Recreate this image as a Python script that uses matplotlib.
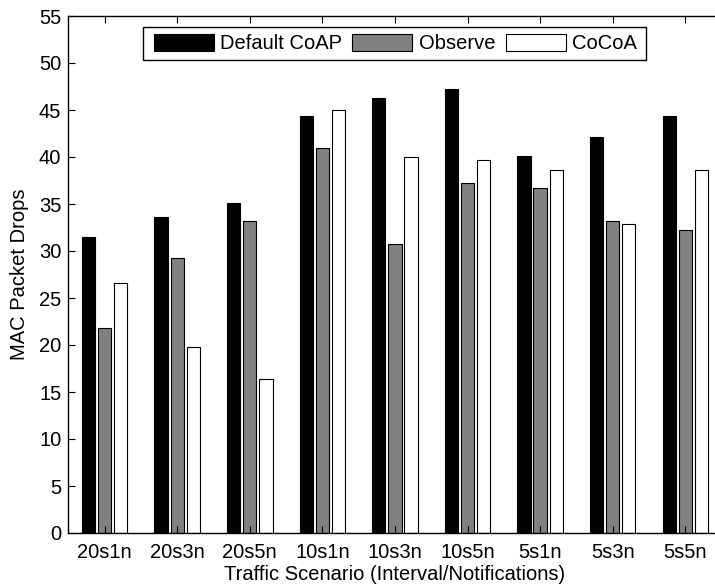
import numpy as np
import matplotlib
matplotlib.use("Agg")
import matplotlib.pyplot as plt
from matplotlib.patches import Rectangle

# ============================================================
# DONNÉES
# ============================================================

scenarios = ["20s1n", "20s3n", "20s5n", "10s1n", "10s3n", "10s5n", "5s1n", "5s3n", "5s5n"]
default_coap = [31.5, 33.6, 35.1, 44.4, 46.3, 47.2, 40.1, 42.1, 44.4]
observe = [21.8, 29.3, 33.2, 41.0, 30.7, 37.2, 36.7, 33.2, 32.2]
cocoa = [26.6, 19.8, 16.4, 45.0, 40.0, 39.7, 38.6, 32.9, 38.6]

series_names = ["Default CoAP", "Observe", "CoCoA"]
series_colors = ["#000000", "#808080", "#ffffff"]

plt.rcParams["font.family"] = ["Liberation Sans", "DejaVu Sans"]
plt.rcParams["font.size"] = 14.5

# ============================================================
# FIGURE
# ============================================================

W, H = 715, 584
fig = plt.figure(figsize=(W / 100, H / 100), dpi=100)
ax = fig.add_axes([68.3 / W, 1 - 533 / H, (721.6 - 68.3) / W, (533 - 16) / H])

x = np.arange(1, len(scenarios) + 1)
offset = 0.222
width = 0.183
for k, (vals, name, col) in enumerate(zip([default_coap, observe, cocoa], series_names, series_colors)):
    ax.bar(x + (k - 1) * offset, vals, width, color=col, edgecolor="black",
           linewidth=0.8, label=name)

ax.set_xlim(0.5, 9.5)
ax.set_ylim(0, 55)
ax.set_yticks(np.arange(0, 56, 5))
ax.set_xticks(x)
ax.set_xticklabels(scenarios)
ax.tick_params(direction="in", length=5, width=0.8, top=True, right=False)
ax.tick_params(axis="y", pad=5)
ax.tick_params(axis="x", pad=7)
for s in ax.spines.values():
    s.set_linewidth(1.0)
ax.spines["right"].set_visible(False)

ax.set_xlabel("Traffic Scenario (Interval/Notifications)", labelpad=2)
ax.set_ylabel("MAC Packet Drops", labelpad=7)

# Légende sans cadre + cadre dessiné à la main (marges comme l'original)
leg = ax.legend(loc="center", bbox_to_anchor=(395.5 / W, 1 - 43.5 / H),
                bbox_transform=fig.transFigure, ncol=3, frameon=False,
                handlelength=2.98, handleheight=0.95,
                handletextpad=0.33, columnspacing=0.5, borderpad=0, borderaxespad=0)
leg.set_zorder(10)
ax.add_patch(Rectangle((143 / W, 1 - 60 / H), (646 - 143) / W, 33 / H,
                       transform=fig.transFigure, clip_on=False, facecolor="white",
                       edgecolor="black", linewidth=1.0, zorder=9))

fig.savefig("out.png", dpi=100)
